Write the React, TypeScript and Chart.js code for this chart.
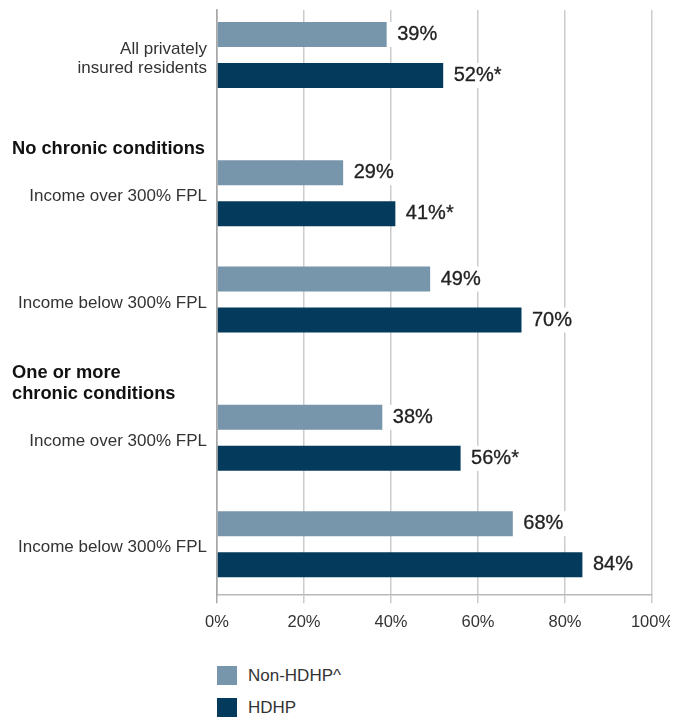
import React, { useEffect, useRef } from "react";
import { Chart, registerables } from "chart.js";

Chart.register(...registerables);

// ---------- data ----------
const GROUP_LABELS: (string | string[])[] = [
  ["All privately", "insured residents"],
  "Income over 300% FPL",
  "Income below 300% FPL",
  "Income over 300% FPL",
  "Income below 300% FPL",
];
const NON_HDHP = [39, 29, 49, 38, 68];
const HDHP = [52, 41, 70, 56, 84];
const HDHP_SIGNIFICANT = [true, true, false, true, false];
const SECTION_HEADERS = [
  { beforeGroup: 1, lines: ["No chronic conditions"] },
  { beforeGroup: 3, lines: ["One or more", "chronic conditions"] },
];
const X_TICKS = [0, 20, 40, 60, 80, 100];
const SERIES_NAMES = ["Non-HDHP^", "HDHP"];
const SERIES_COLORS = ["#7795ab", "#043a5c"];

// ---------- layout helpers ----------
const FONT = '"Liberation Sans", Arial, Helvetica, sans-serif';
const HEADER_GAP = 0.3; // extra room (in group units) taken by a section header
const POSITIONS = GROUP_LABELS.map(
  (_, i) => i + HEADER_GAP * SECTION_HEADERS.filter((h) => h.beforeGroup <= i).length
);
const Y_MIN = -0.423;
const Y_MAX = POSITIONS[POSITIONS.length - 1] + 0.48;

const annotatePlugin = {
  id: "annotate",
  afterDatasetsDraw(chart: any) {
    const ctx = chart.ctx;
    ctx.save();
    ctx.textBaseline = "middle";
    ctx.textAlign = "left";
    ctx.font = `20px ${FONT}`;
    chart.data.datasets.forEach((ds: any, di: number) => {
      const meta = chart.getDatasetMeta(di);
      meta.data.forEach((el: any, i: number) => {
        const v = ds.data[i].x;
        const star = di === 1 && HDHP_SIGNIFICANT[i] ? "*" : "";
        const text = `${v}%${star}`;
        const w = ctx.measureText(text).width;
        const h = el.height;
        ctx.fillStyle = "#ffffff";
        ctx.fillRect(el.x + 1, el.y - h / 2, w + 18, h);
        ctx.fillStyle = "#222222";
        ctx.strokeStyle = "#222222";
        ctx.lineWidth = 0.3;
        ctx.fillText(text, el.x + 10.5, el.y);
        ctx.strokeText(text, el.x + 10.5, el.y);
      });
    });
    const yScale = chart.scales.y;
    ctx.font = `bold 18.3px ${FONT}`;
    ctx.fillStyle = "#111111";
    SECTION_HEADERS.forEach((h) => {
      const base = yScale.getPixelForValue(POSITIONS[h.beforeGroup] - 0.415);
      h.lines.forEach((line, li) => {
        ctx.fillText(line, 4, base - (h.lines.length - 1 - li) * 20.7);
      });
    });
    ctx.restore();
  },
};

export default function App() {
  const canvasRef = useRef<HTMLCanvasElement | null>(null);

  useEffect(() => {
    document.body.style.overflow = "hidden";
    const canvas = canvasRef.current;
    if (!canvas) return;
    Chart.defaults.font.family = FONT;
    const chart = new Chart(canvas, {
      type: "bar",
      data: {
        datasets: [
          {
            label: SERIES_NAMES[0],
            data: NON_HDHP.map((v, i) => ({ x: v, y: POSITIONS[i] })),
            backgroundColor: SERIES_COLORS[0],
          },
          {
            label: SERIES_NAMES[1],
            data: HDHP.map((v, i) => ({ x: v, y: POSITIONS[i] })),
            backgroundColor: SERIES_COLORS[1],
          },
        ],
      },
      options: {
        indexAxis: "y",
        animation: false,
        responsive: true,
        maintainAspectRatio: false,
        layout: { padding: { top: 2, right: 26, bottom: 17, left: 0 } },
        datasets: { bar: { categoryPercentage: 0.771, barPercentage: 0.61 } },
        plugins: { legend: { display: false }, tooltip: { enabled: false } },
        scales: {
          x: {
            type: "linear",
            position: "bottom",
            min: 0,
            max: 100,
            afterBuildTicks: (s: any) => {
              s.ticks = X_TICKS.map((v) => ({ value: v }));
            },
            afterFit: (s: any) => {
              s.paddingLeft = 0;
              s.paddingRight = 0;
            },
            grid: {
              color: (c: any) => (c.index === 0 ? "#a8a8a8" : "#cccccc"),
              lineWidth: 1.5,
              drawTicks: true,
              tickLength: 8,
            },
            border: { display: true, color: "#b8b8b8", width: 1.5 },
            ticks: {
              callback: (v: any) => `${v}%`,
              color: "#333333",
              font: { size: 16.5 },
              padding: 9,
              maxRotation: 0,
              autoSkip: false,
            },
          },
          y: {
            type: "linear",
            reverse: true,
            offset: false,
            min: Y_MIN,
            max: Y_MAX,
            afterBuildTicks: (s: any) => {
              s.ticks = POSITIONS.map((v) => ({ value: v }));
            },
            afterFit: (s: any) => {
              s.width = 209;
              s.paddingTop = 0;
              s.paddingBottom = 0;
            },
            grid: { display: false, drawTicks: false, offset: false },
            border: { display: true, color: "#a8a8a8", width: 1.5 },
            ticks: {
              callback: (_v: any, i: number) => GROUP_LABELS[i],
              color: "#333333",
              font: { size: 17, lineHeight: 1.1 },
              padding: 10,
              labelOffset: 3.5,
              autoSkip: false,
            },
          },
        },
      } as any,
      plugins: [annotatePlugin],
    });
    return () => chart.destroy();
  }, []);

  return (
    <div style={{ position: "relative", width: 670, height: 709, fontFamily: FONT }}>
      <div style={{ position: "relative", width: 670, height: 650 }}>
        <canvas ref={canvasRef} />
      </div>
      {SERIES_NAMES.map((name, i) => (
        <div
          key={name}
          style={{
            position: "absolute",
            left: 209,
            top: 658 + i * 32,
            height: 19,
            display: "flex",
            alignItems: "center",
          }}
        >
          <div style={{ width: 20, height: 19, background: SERIES_COLORS[i] }} />
          <span style={{ marginLeft: 11, fontSize: 17, color: "#333333", lineHeight: "19px" }}>
            {name}
          </span>
        </div>
      ))}
    </div>
  );
}
